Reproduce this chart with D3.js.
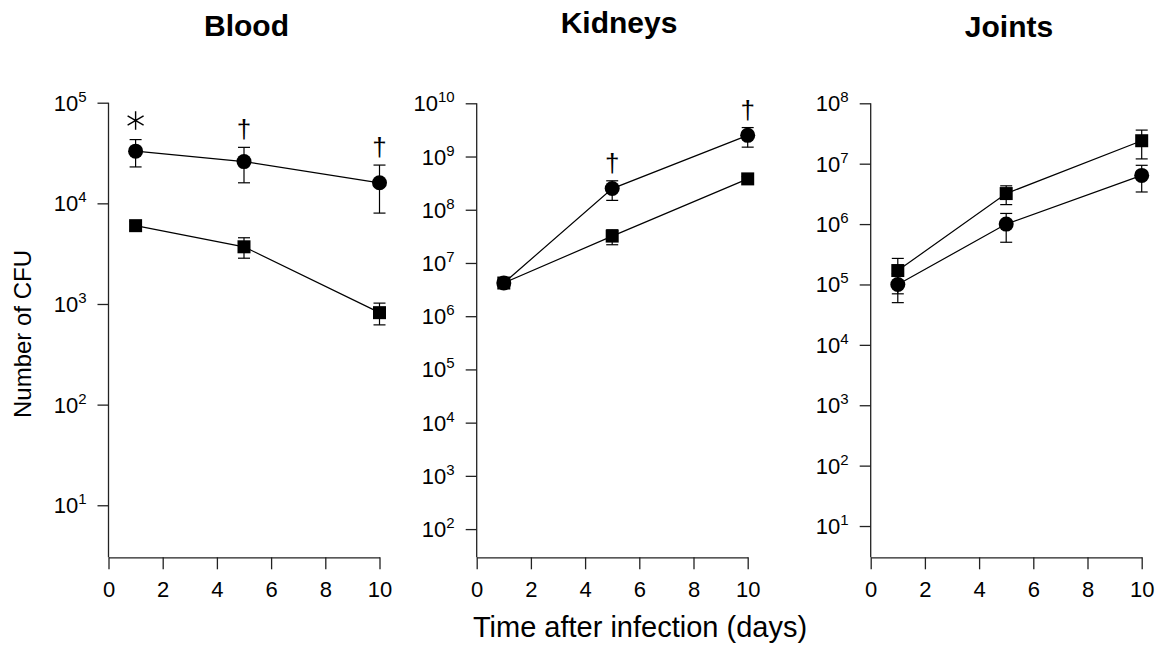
<!DOCTYPE html>
<html lang="en">
<head>
<meta charset="UTF-8">
<title>Number of CFU over time</title>
<script src="https://d3js.org/d3.v7.min.js"></script>
<style>
    body { margin: 0; background: #fff; }
    text { font-family: "Liberation Sans", Arial, sans-serif; fill: #000; }
    .axis path, .axis line { stroke: #222; stroke-width: 1.3px; }
    .link { fill: none; stroke: #000; stroke-width: 1.2px; }
    .err { stroke: #000; stroke-width: 1.2px; }
</style>
</head>
<body>
<div id="chart"></div>
<script>
// days sampled
var days = [1, 5, 10];

// panel titles
var panels = ["Blood", "Kidneys", "Joints"];

// circles (mean, sem) per panel
var circleMean = [[33000, 26000, 16000], [4.2e6, 2.5e8, 2.5e9], [1.0e5, 1.0e6, 6.4e6]];
var circleSem  = [[10000, 10000, 8000], [4e5, 1e8, 1e9], [5e4, 5e5, 3e6]];

// squares (mean, sem) per panel
var squareMean = [[6000, 3700, 820], [4.2e6, 3.2e7, 3.8e8], [1.7e5, 3.2e6, 2.4e7]];
var squareSem  = [[600, 850, 200], [4e5, 1e7, 4e7], [1e5, 1.1e6, 1.2e7]];

// significance marks: [panel, day index, symbol]
var marks = [[0, 0, "*"], [0, 1, "†"], [0, 2, "†"], [1, 1, "†"], [1, 2, "†"]];

// y tick exponents
var yTickExp = [[1, 2, 3, 4, 5], [2, 3, 4, 5, 6, 7, 8, 9, 10], [1, 2, 3, 4, 5, 6, 7, 8]];
var yBottomExp = [0.483, 1.47, 0.482];
var xTicks = [0, 2, 4, 6, 8, 10];

var W = 1158, H = 659;
var svg = d3.select("#chart").append("svg")
    .attr("width", W)
    .attr("height", H);

var plotLeft = [108.5, 476.7, 870.7],
    plotW = 271,
    plotTop = [102.7, 103.3, 103.3],
    plotBottom = 557.3;
var titleX = [246.5, 619, 1009],
    titleY = [36, 33, 37];

panels.forEach(function(name, p) {
    var x = d3.scaleLinear().domain([0, 10]).range([plotLeft[p], plotLeft[p] + plotW]);
    var exps = yTickExp[p];
    var y = d3.scaleLog()
        .domain([Math.pow(10, yBottomExp[p]), Math.pow(10, exps[exps.length - 1])])
        .range([plotBottom, plotTop[p]]);

    svg.append("text")
        .attr("x", titleX[p]).attr("y", titleY[p])
        .attr("text-anchor", "middle")
        .style("font-size", "30px").style("font-weight", "bold")
        .text(name);

    // x axis
    var gx = svg.append("g").attr("class", "axis")
        .attr("transform", "translate(0," + plotBottom + ")")
        .call(d3.axisBottom(x).tickValues(xTicks).tickSize(12).tickSizeOuter(0).tickPadding(8));
    gx.selectAll("text").style("font-size", "22px").attr("dy", "0.9em");

    // y axis, labels as 10 with superscript
    var gy = svg.append("g").attr("class", "axis")
        .attr("transform", "translate(" + plotLeft[p] + ",0)")
        .call(d3.axisLeft(y)
            .tickValues(exps.map(function(e) { return Math.pow(10, e); }))
            .tickSize(11).tickSizeOuter(0).tickFormat(""));
    gy.select(".domain").attr("d", "M0," + plotBottom + "V" + plotTop[p]);

    exps.forEach(function(e) {
        var t = svg.append("text")
            .attr("x", plotLeft[p] - 22)
            .attr("y", y(Math.pow(10, e)) + 8)
            .attr("text-anchor", "end");
        t.append("tspan").style("font-size", "22px").text("10");
        t.append("tspan").style("font-size", "15px").attr("dy", -9).text(e);
    });

    // lines
    var line = d3.line()
        .x(function(d, i) { return x(days[i]); })
        .y(function(d) { return y(d); });

    [squareMean[p], circleMean[p]].forEach(function(vals) {
        svg.append("path").attr("class", "link").attr("d", line(vals));
    });

    // error bars
    [[squareMean[p], squareSem[p]], [circleMean[p], circleSem[p]]].forEach(function(s) {
        var g = svg.append("g");
        s[0].forEach(function(m, i) {
            var cx = x(days[i]),
                hi = y(m + s[1][i]),
                lo = y(Math.max(m - s[1][i], 1e-3));
            g.append("line").attr("class", "err")
                .attr("x1", cx).attr("x2", cx).attr("y1", hi).attr("y2", lo);
            [hi, lo].forEach(function(yy) {
                g.append("line").attr("class", "err")
                    .attr("x1", cx - 6).attr("x2", cx + 6).attr("y1", yy).attr("y2", yy);
            });
        });
    });

    // markers
    svg.append("g").selectAll("rect")
        .data(squareMean[p]).join("rect")
        .attr("x", function(d, i) { return x(days[i]) - 6.5; })
        .attr("y", function(d) { return y(d) - 6.5; })
        .attr("width", 13).attr("height", 13)
        .attr("fill", "#000");

    svg.append("g").selectAll("circle")
        .data(circleMean[p]).join("circle")
        .attr("cx", function(d, i) { return x(days[i]); })
        .attr("cy", function(d) { return y(d); })
        .attr("r", 7.5)
        .attr("fill", "#000");

    // significance marks above circle error bars
    marks.filter(function(m) { return m[0] === p; }).forEach(function(m) {
        var i = m[1],
            cx = x(days[i]),
            yy = y(circleMean[p][i] + circleSem[p][i]);
        if (m[2] === "*") {
            svg.append("path")
                .attr("transform", "translate(" + cx + "," + (yy - 19) + ")")
                .attr("d", d3.symbol().type(d3.symbolAsterisk).size(240)())
                .attr("fill", "none").attr("stroke", "#000").attr("stroke-width", 1.4);
        } else {
            svg.append("text")
                .attr("x", cx).attr("y", yy - 9)
                .attr("text-anchor", "middle")
                .style("font-size", "26px")
                .text(m[2]);
        }
    });
});

// shared labels
svg.append("text")
    .attr("x", 640).attr("y", 637)
    .attr("text-anchor", "middle")
    .style("font-size", "29px")
    .text("Time after infection (days)");

svg.append("text")
    .attr("transform", "translate(31,334) rotate(-90)")
    .attr("text-anchor", "middle")
    .style("font-size", "24px")
    .text("Number of CFU");
</script>
</body>
</html>
